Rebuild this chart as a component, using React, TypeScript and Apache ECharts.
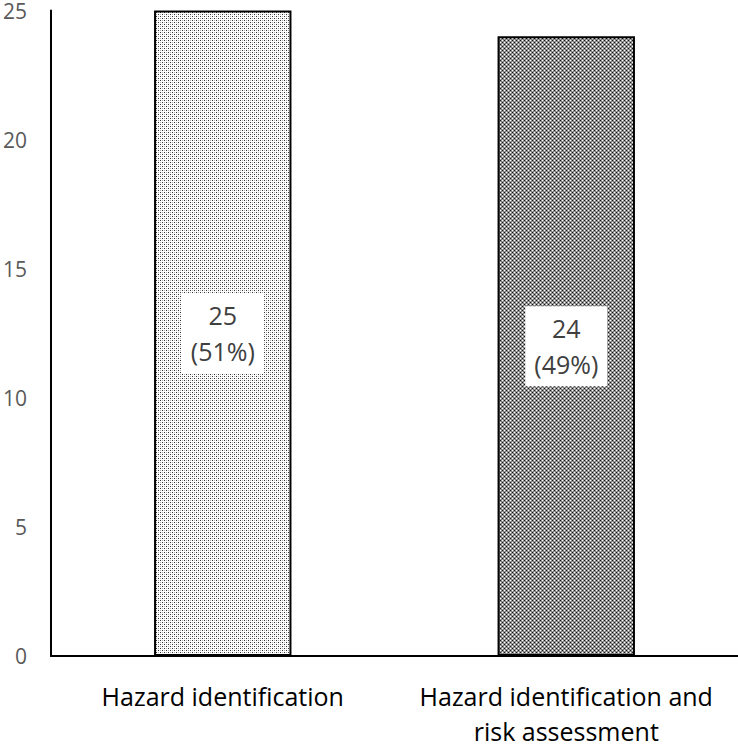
import React, { useEffect, useRef } from "react";
import * as echarts from "echarts";

const categories = ["Hazard identification", "Hazard identification and\nrisk assessment"];
const counts = [25, 24];
const percents = ["51%", "49%"];
const yTicks = [0, 5, 10, 15, 20, 25];

function makePattern(kind: "light" | "dark"): string {
  const c = document.createElement("canvas");
  c.width = 4;
  c.height = 4;
  const ctx = c.getContext("2d")!;
  if (kind === "light") {
    ctx.fillStyle = "#ffffff";
    ctx.fillRect(0, 0, 4, 4);
    ctx.fillStyle = "#333333";
    ctx.fillRect(0, 0, 1, 1);
    ctx.fillRect(2, 2, 1, 1);
    ctx.fillStyle = "#b0b0b0";
    ctx.fillRect(2, 0, 1, 1);
    ctx.fillRect(0, 2, 1, 1);
  } else {
    for (let y = 0; y < 4; y++) {
      for (let x = 0; x < 4; x++) {
        ctx.fillStyle = (x + y) % 2 === 0 ? "#7a7a7a" : "#9a9a9a";
        ctx.fillRect(x, y, 1, 1);
      }
    }
    ctx.fillStyle = "#111111";
    ctx.fillRect(0, 0, 1, 1);
    ctx.fillRect(2, 2, 1, 1);
    ctx.fillStyle = "#ffffff";
    ctx.fillRect(2, 0, 1, 1);
    ctx.fillRect(0, 2, 1, 1);
  }
  return c.toDataURL();
}

export default function App() {
  const ref = useRef<HTMLDivElement>(null);
  useEffect(() => {
    if (!ref.current) return;
    const chart = echarts.init(ref.current, undefined, { renderer: "svg" });
    const patterns = [makePattern("light"), makePattern("dark")];
    chart.setOption({
      animation: false,
      grid: { left: 48, right: 0, top: 10, bottom: 83, containLabel: false },
      xAxis: {
        type: "category",
        data: categories,
        axisLine: { show: true, lineStyle: { color: "#000", width: 2 } },
        axisTick: { show: false },
        axisLabel: {
          interval: 0,
          color: "#000",
          fontFamily: "Open Sans",
          fontSize: 25,
          lineHeight: 35,
          margin: 22,
        },
      },
      yAxis: {
        type: "value",
        min: yTicks[0],
        max: yTicks[yTicks.length - 1],
        interval: 5,
        axisLine: { show: true, lineStyle: { color: "#000", width: 2 } },
        axisTick: { show: false },
        splitLine: { show: false },
        axisLabel: {
          color: "#595959",
          fontFamily: "Open Sans",
          fontSize: 21,
          margin: 24,
        },
      },
      series: [
        {
          type: "bar",
          barWidth: "40%",
          data: counts.map((v, i) => ({
            value: v,
            itemStyle: {
              color: { image: patterns[i], repeat: "repeat" },
              borderColor: "#000",
              borderWidth: 2,
            },
          })),
          label: {
            show: true,
            position: "inside",
            formatter: (p: any) => `${counts[p.dataIndex]}\n(${percents[p.dataIndex]})`,
            backgroundColor: "#ffffff",
            color: "#404040",
            fontFamily: "Open Sans",
            fontSize: 25,
            lineHeight: 36,
            padding: [5, 9, 3, 9],
          },
        },
      ],
    });
    return () => chart.dispose();
  }, []);
  return <div ref={ref} style={{ width: 738, height: 748, position: "absolute", left: 0, top: 0 }} />;
}
